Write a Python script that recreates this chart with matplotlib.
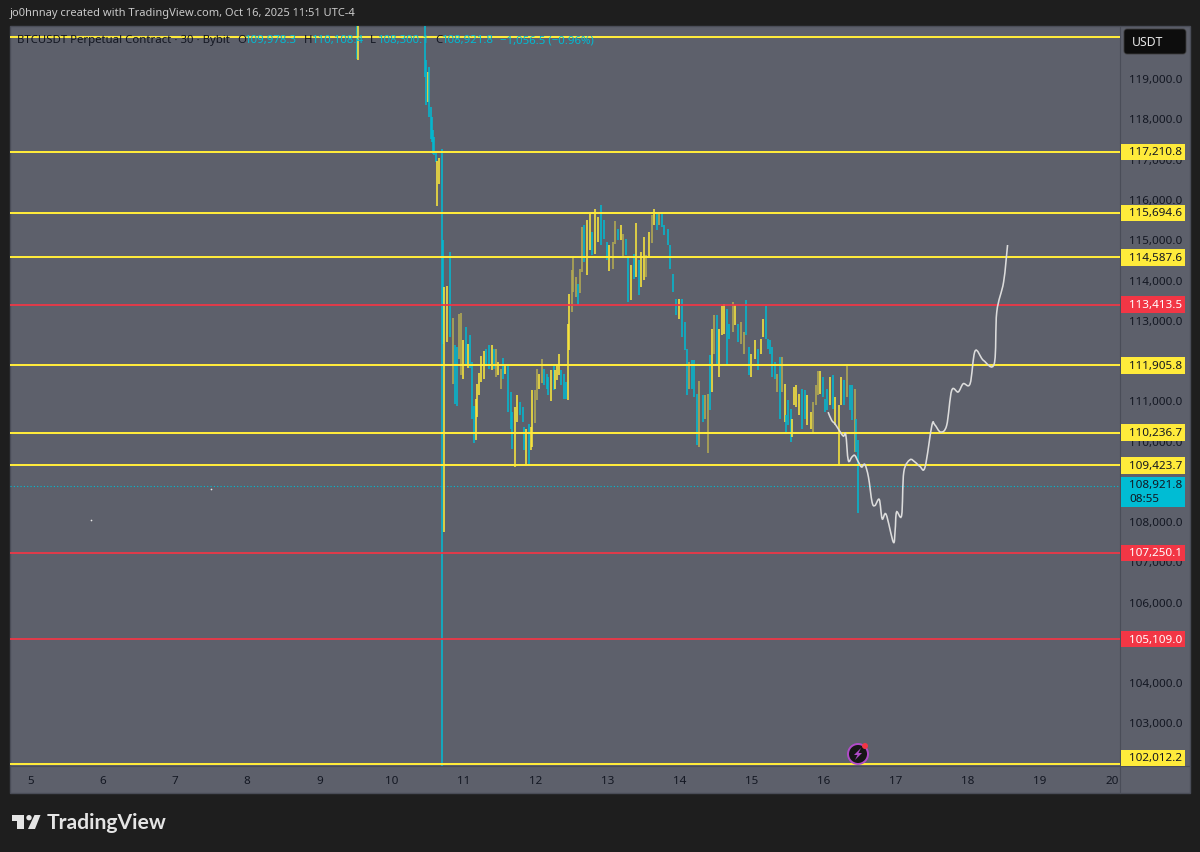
import matplotlib
matplotlib.use("Agg")
import matplotlib.pyplot as plt
from matplotlib.patches import Rectangle, FancyBboxPatch, Polygon, Circle, PathPatch
from matplotlib.lines import Line2D
from matplotlib.path import Path
from matplotlib.transforms import IdentityTransform, Affine2D
from matplotlib.ticker import FuncFormatter
import numpy as np

plt.rcParams['font.family'] = ['Noto Sans', 'DejaVu Sans']

# ---------- data ----------
bar_day = [
 9.52, 9.54, 10.47, 10.48, 10.505, 10.52, 10.545, 10.56, 10.58, 10.59,
 10.62, 10.64, 10.665, 10.70, 10.71, 10.731, 10.777, 10.814, 10.852, 10.884,
 10.907, 10.939, 10.967, 10.994, 11.03, 11.06, 11.09, 11.12, 11.15, 11.17,
 11.19, 11.22, 11.25, 11.29, 11.32, 11.355, 11.39, 11.42, 11.45, 11.48,
 11.52, 11.55, 11.58, 11.62, 11.66, 11.68, 11.71, 11.75, 11.785, 11.82,
 11.84, 11.87, 11.91, 11.94, 11.955, 11.99, 12.02, 12.05, 12.09, 12.12,
 12.155, 12.18, 12.21, 12.25, 12.275, 12.30, 12.33, 12.36, 12.40, 12.42,
 12.45, 12.47, 12.50, 12.525, 12.56, 12.585, 12.62, 12.65, 12.68, 12.71,
 12.75, 12.78, 12.83, 12.87, 12.91, 12.95, 12.99, 13.025, 13.07, 13.11,
 13.15, 13.18, 13.22, 13.26, 13.29, 13.325, 13.36, 13.39, 13.43, 13.46,
 13.50, 13.53, 13.57, 13.61, 13.645, 13.68, 13.72, 13.755, 13.79, 13.835,
 13.87, 13.91, 13.95, 13.99, 14.03, 14.075, 14.10, 14.13, 14.17, 14.20,
 14.24, 14.27, 14.325, 14.35, 14.39, 14.42, 14.45, 14.48, 14.52, 14.545,
 14.59, 14.615, 14.66, 14.685, 14.74, 14.77, 14.81, 14.85, 14.89, 14.92,
 14.96, 14.99, 15.05, 15.09, 15.13, 15.16, 15.20, 15.23, 15.255, 15.28,
 15.32, 15.35, 15.39, 15.42, 15.46, 15.475, 15.50, 15.545, 15.56, 15.585,
 15.61, 15.655, 15.70, 15.74, 15.77, 15.82, 15.85, 15.89, 15.92, 15.95,
 15.99, 16.02, 16.045, 16.09, 16.13, 16.155, 16.21, 16.24, 16.28, 16.32,
 16.36, 16.39, 16.43, 16.445, 16.47,
]
bar_high = [
 120400, 120400, 120400, 119535, 119235, 119360, 118360, 118120, 117790, 117615,
 117240, 117020, 117095, 117320, 115055, 113885, 113910, 114755, 113115, 112445,
 112395, 113215, 113240, 112570, 112895, 112470, 112695, 112025, 110930, 111105,
 111475, 111750, 112170, 112295, 112345, 112445, 112445, 112345, 112345, 112025,
 111850, 112125, 111950, 111950, 111280, 110780, 110905, 111205, 111030, 110905,
 110410, 110360, 110480, 110410, 111330, 111330, 111850, 111725, 112100, 111850,
 111725, 111650, 111825, 111950, 111825, 111975, 112220, 111825, 111725, 111525,
 112970, 113715, 114310, 114660, 114135, 113960, 114335, 115380, 115430, 115555,
 115700, 115255, 115825, 115625, 115925, 115555, 115005, 114930, 115005, 115530,
 115330, 115430, 115205, 115080, 114635, 114435, 114710, 115480, 114560, 114755,
 115130, 114685, 115255, 115675, 115825, 115725, 115750, 115750, 115430, 115330,
 114930, 114210, 113590, 113590, 113590, 113020, 112345, 112025, 112075, 112075,
 111230, 111550, 111205, 111205, 111230, 112195, 112845, 113190, 113190, 112845,
 113415, 113465, 113340, 112970, 113515, 113440, 112970, 113020, 112770, 113565,
 112395, 112220, 112570, 112345, 112595, 113090, 113415, 112595, 112570, 112395,
 112025, 111725, 112150, 112150, 111475, 110705, 111080, 110855, 110605, 111400,
 111450, 111230, 111350, 111330, 111205, 110780, 111030, 111450, 111800, 111800,
 111650, 111105, 111350, 111650, 111700, 111155, 110955, 111650, 111575, 111925,
 111450, 111450, 111350, 110605, 110085,
]
bar_low = [
 119560, 119535, 119110, 118415, 118490, 118120, 117565, 117490, 117195, 117170,
 116990, 115900, 116450, 101900, 112470, 107800, 112520, 112645, 111475, 110980,
 110930, 112100, 111700, 111600, 111975, 111875, 111875, 110605, 110010, 110085,
 110655, 111205, 111525, 111600, 111950, 111850, 111825, 111850, 111650, 111700,
 111350, 111600, 111725, 110780, 110360, 109860, 109415, 110530, 110705, 110530,
 109835, 109490, 109490, 109835, 109910, 110505, 111080, 111350, 111500, 111450,
 111350, 111205, 111055, 111330, 111350, 111575, 111700, 111450, 111105, 111105,
 111080, 112320, 113265, 113765, 113640, 113440, 113740, 114260, 114510, 114185,
 114805, 114685, 114710, 115005, 114930, 115080, 114560, 114285, 114335, 114955,
 115055, 115055, 114635, 114685, 113515, 113565, 114085, 114135, 113690, 113885,
 114060, 114135, 114635, 114980, 115430, 115305, 115430, 115380, 115180, 114930,
 114335, 113765, 113190, 113090, 112645, 112320, 111205, 111350, 111350, 111155,
 109960, 109910, 110530, 110605, 109765, 110830, 111280, 112220, 111950, 111650,
 112695, 112720, 111950, 112595, 112770, 112945, 112520, 112470, 112220, 112695,
 111700, 111650, 112100, 111825, 112220, 112645, 112595, 112345, 112220, 111650,
 111600, 111280, 110605, 111280, 110530, 110235, 110455, 110035, 110160, 110955,
 110905, 110705, 110360, 110605, 110455, 110360, 110285, 110955, 111205, 111230,
 111155, 110780, 110830, 110955, 110855, 110455, 109490, 110955, 110955, 111155,
 110830, 110580, 109790, 109790, 108270,
]
bar_tone = list(
 "CYCCYCCCCC"
 "CYYCCYYCOC"
 "COOYCYCCCY"
 "YYYYCCYCOY"
 "OCYCCCYYCC"
 "CYCYYOOYOC"
 "CCYCYYYCCC"
 "YYOOOCOOCY"
 "YCYYCCCYOO"
 "CYOCCYCYCY"
 "YOYOYCOCCC"
 "CCCYCCCOCC"
 "COCOOCYOCY"
 "YYCCOYCOOC"
 "CYYCYYCCCC"
 "COCOYCCCYY"
 "YYCCYYOOOY"
 "CCCYCYYYCO"
 "CCOCC"
)
stray_day = [5.83, 7.50]
stray_price = [108100, 108880]

forecast_day = [16.06, 16.11, 16.155, 16.20, 16.27, 16.305, 16.34, 16.39, 16.43, 16.48,
                16.525, 16.57, 16.62, 16.67, 16.71, 16.77, 16.81, 16.865, 16.965, 16.99,
                17.01, 17.08, 17.11, 17.195, 17.265, 17.335, 17.405, 17.50, 17.54, 17.62,
                17.705, 17.775, 17.865, 17.935, 18.03, 18.10, 18.215, 18.365, 18.40, 18.495, 18.55]
forecast_price = [110780, 110575, 110490, 110365, 110185, 110220, 109580, 109665, 109705, 109540,
                  109415, 109480, 109165, 108545, 108460, 108610, 108130, 108240, 107550, 107840,
                  108300, 108215, 109290, 109595, 109540, 109430, 109415, 110450, 110465, 110285,
                  110450, 111320, 111280, 111485, 111485, 112300, 112065, 111980, 113265, 114010, 114930]
# my readings sat slightly high against the stated legend low of 108,300.1
READ_CALIBRATION = -35

yellow_levels = [117210.8, 115694.6, 114587.6, 111905.8, 110236.7, 109423.7, 102012.2]
red_levels = [113413.5, 107250.1, 105109.0]
top_level = 120060
last_price = 108921.8
countdown = "08:55"
# the scale's other round prices sit fully behind badges in the reference
price_ticks = [103000, 104000, 106000, 107000, 108000, 110000, 111000,
               113000, 114000, 115000, 116000, 117000, 118000, 119000]
day_ticks = list(range(5, 21))

title_text = "jo0hnnay created with TradingView.com, Oct 16, 2025 11:51 UTC-4"
symbol_text = "BTCUSDT Perpetual Contract · 30 · Bybit"
ohlc_letters = ["O", "H", "L", "C"]
ohlc_values = ["109,978.3", "110,108.4", "108,300.1", "108,921.8"]
change_text = "−1,056.5 (−0.96%)"

# ---------- style ----------
W, H = 1200, 853
BG = '#1e1e1e'
PANEL = '#5d606b'
BORDER = '#4a4d58'
YEL = '#ffeb3b'
RED = '#f23645'
CYAN = '#00bcd4'
OLIVE = '#b8ad52'
INK = '#131722'
tone_color = {'Y': YEL, 'C': CYAN, 'O': OLIVE}
FS = 8.4

fig = plt.figure(figsize=(W / 100, H / 100), dpi=100, facecolor=BG)
ID = IdentityTransform()

def px_rect(x0, y0, x1, y1, **kw):
    r = Rectangle((x0, H - y1), x1 - x0, y1 - y0, transform=ID, **kw)
    fig.add_artist(r)
    return r

def px_text(x, y, s, **kw):
    kw.setdefault('va', 'center')
    kw.setdefault('fontsize', FS)
    return fig.text(x, H - y, s, transform=ID, **kw)

px_rect(10, 27, 1190, 794, facecolor=PANEL, edgecolor=BORDER, lw=1, zorder=-5)

ax = fig.add_axes([10 / W, (H - 767) / H, 1110 / W, 740 / H], facecolor='none')
ax.set_xlim(4.709, 20.11)
ax.set_ylim(101957, 120333)
for s in ['top', 'left']:
    ax.spines[s].set_visible(False)
for s in ['right', 'bottom']:
    ax.spines[s].set_color(BORDER)
    ax.spines[s].set_linewidth(0.8)
ax.yaxis.tick_right()
ax.set_yticks(price_ticks)
ax.yaxis.set_major_formatter(FuncFormatter(lambda v, _: f"{v:,.1f}"))
ax.set_xticks(day_ticks)
ax.tick_params(axis='y', length=0, pad=6.2, labelsize=FS, labelcolor=INK)
ax.tick_params(axis='x', length=0, pad=6.5, labelsize=FS, labelcolor=INK)
for t in ax.yaxis.get_major_ticks():
    t.label2.set_transform(t.label2.get_transform() + Affine2D().translate(0, 1.5))

# bars
colors = [tone_color[t] for t in bar_tone]
ax.vlines(bar_day, np.array(bar_low) + READ_CALIBRATION, np.array(bar_high) + READ_CALIBRATION,
          colors=colors, linewidth=1.1, zorder=3)
ax.scatter(stray_day, np.array(stray_price) + READ_CALIBRATION, s=1.5, color='#e8e8e8', linewidths=0, zorder=3)

# level lines
ax.hlines(yellow_levels + [top_level], 4.709, 20.11, colors=YEL, linewidth=1.45, zorder=4)
ax.hlines(red_levels, 4.709, 20.11, colors=RED, linewidth=1.25, zorder=4)
ax.plot([4.709, 20.11], [last_price, last_price], color=CYAN, lw=0.8, ls=(0, (1, 2)), zorder=2)

# smooth forecast path through the read points
P = np.column_stack([forecast_day, np.array(forecast_price) + READ_CALIBRATION]).astype(float)
verts = [P[0]]
codes = [Path.MOVETO]
for i in range(len(P) - 1):
    a = P[max(i - 1, 0)]
    b = P[i]
    c = P[i + 1]
    d = P[min(i + 2, len(P) - 1)]
    verts += [b + (c - a) / 6, c - (d - b) / 6, c]
    codes += [Path.CURVE4] * 3
ax.add_patch(PathPatch(Path(verts, codes), fill=False, edgecolor='#dcdcdc', lw=1.15, zorder=5))

# ---------- price badges ----------
def price_y(v):
    return H - ax.transData.transform((0, v))[1]

def badge(v, face, ink, weight='normal'):
    y = min(price_y(v), 759)
    px_rect(1121, y - 8.2, 1185, y + 8.2, facecolor=face, edgecolor='none', zorder=5)
    px_text(1129, y, f"{v:,.1f}", color=ink, fontweight=weight, zorder=6)

for v in yellow_levels:
    badge(v, YEL, INK)
for v in red_levels:
    badge(v, RED, 'white', 'bold')

ly = price_y(last_price)
px_rect(1121, ly - 9, 1185, ly + 21.5, facecolor=CYAN, edgecolor='none', zorder=5)
px_text(1129, ly - 1, f"{last_price:,.1f}", color=INK, zorder=6)
px_text(1129, ly + 13, countdown, color=INK, zorder=6)

fig.add_artist(FancyBboxPatch((1124, H - 55), 62, 25, boxstyle="round,pad=0,rounding_size=3",
                              transform=ID, facecolor='#0d0d0d', edgecolor='#3c3c3c', lw=0.6, zorder=5,
                              mutation_aspect=1))
px_text(1132, 43, "USDT", color='#e6e6e6', zorder=6, fontsize=8.8)

# time-scale border extension
fig.add_artist(Line2D([1120, 1120], [H - 767, H - 794], transform=ID, color=BORDER, lw=0.8))
fig.add_artist(Line2D([1120, 1190], [H - 767, H - 767], transform=ID, color=BORDER, lw=0.8))

# ---------- header and legend text ----------
px_text(10, 14, title_text, color='#c9c9c9', fontsize=8.0)
px_text(17, 41, symbol_text, color=INK, fontsize=8.2, zorder=7)
for x, s in zip([237, 304, 370, 435], ohlc_letters):
    px_text(x, 41, s, color=INK, fontsize=8.2, zorder=7)
for x, s in zip([245, 312, 378, 442], ohlc_values):
    px_text(x, 41, s, color=CYAN, fontsize=8.2, zorder=7)
px_text(500, 41, change_text, color=CYAN, fontsize=8.2, zorder=7)

# ---------- logo ----------
LOGO = '#e4e4e4'
def px_poly(points, **kw):
    fig.add_artist(Polygon([(x, H - y) for x, y in points], closed=True, transform=ID, **kw))

px_poly([(12, 816), (24, 816), (24, 830), (17, 830), (17, 822), (12, 822)], facecolor=LOGO, edgecolor='none')
fig.add_artist(Circle((29, H - 818.7), 2.7, transform=ID, facecolor=LOGO, edgecolor='none'))
px_poly([(28, 830), (34.5, 816), (40.5, 816), (35, 830)], facecolor=LOGO, edgecolor='none')
px_text(47, 823.5, "TradingView", color=LOGO, fontsize=15.2, fontweight='bold', family='Lato')

# ---------- alert icon ----------
cx, cy = 858, 755
fig.add_artist(Circle((cx, H - cy), 10, transform=ID, facecolor='#161616', edgecolor='#b04bc8', lw=1.4, zorder=6))
px_poly([(cx + 3, cy - 6), (cx - 4, cy + 1), (cx - 0.5, cy + 1), (cx - 3, cy + 6),
         (cx + 4, cy - 1), (cx + 0.5, cy - 1)], facecolor='#b04bc8', edgecolor='none', zorder=7)
fig.add_artist(Circle((cx + 7, H - (cy - 8)), 3, transform=ID, facecolor='#f23645', edgecolor='none', zorder=8))

fig.savefig("out.png", dpi=100, facecolor=BG)
assert len(bar_day) == len(bar_high) == len(bar_low) == len(bar_tone)
